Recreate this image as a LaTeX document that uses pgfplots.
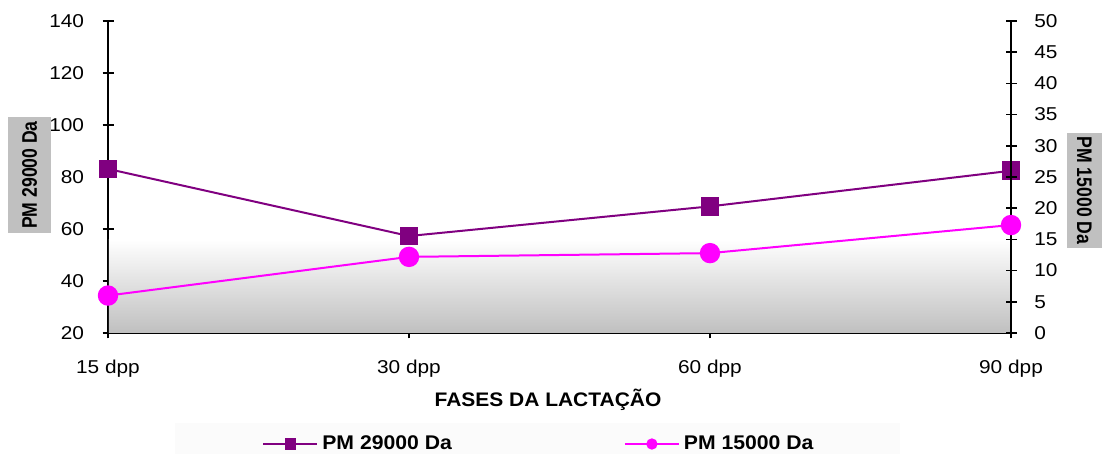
\documentclass[border=0pt]{standalone}
\usepackage{pgfplots}
\pgfplotsset{compat=1.18}
\usepackage{fontspec}
\setmainfont{Liberation Sans}
\newfontfamily\tickfont{Liberation Sans}[FakeStretch=1.12]
\newfontfamily\labfont{Liberation Sans}[FakeStretch=1.07]

\definecolor{pm29}{RGB}{128,0,128}
\definecolor{pm15}{RGB}{255,0,255}
\definecolor{boxgray}{RGB}{192,192,192}
\definecolor{shadegray}{RGB}{192,192,192}
\definecolor{legbg}{RGB}{251,251,251}

\pgfplotsset{
  common/.style={
    scale only axis,
    width=451.5pt, height=156pt,
    at={(54pt,60.5pt)}, anchor=south west,
    xmin=0, xmax=3,
    axis line style={black, line width=0.9pt},
    major tick style={black, line width=0.8pt},
    major tick length=5.5pt,
    tick align=center,
    /pgf/number format/assume math mode=true,
    ticklabel style={font=\tickfont\fontsize{9.3}{11}\selectfont, text=black},
  },
}

\begin{document}
\begin{tikzpicture}
\useasboundingbox (0,0) rectangle (551pt,227pt);

% legend background strip
\fill[legbg] (87.5pt,0pt) rectangle (450pt,15.5pt);

% left axis: PM 29000 Da
\begin{axis}[common,
  ymin=20, ymax=140, ytick={20,40,...,140},
  axis x line*=bottom, axis y line*=left,
  xtick={0,1,2,3},
  xticklabels={15 dpp,30 dpp,60 dpp,90 dpp},
  xticklabel style={yshift=-7.4pt},
  yticklabel style={xshift=-5.7pt},
]
% shaded band along the bottom of the plot area
\fill[top color=white, bottom color=shadegray]
  ([xshift=0.45pt,yshift=0.45pt]axis cs:0,20) rectangle ([xshift=-0.45pt]axis cs:3,56);
\addplot[pm29, line width=1pt, mark=square*, mark size=4.2pt,
  mark options={fill=pm29, draw=pm29}]
  coordinates {(0,83.1) (1,57.3) (2,68.7) (3,82.4)};
\end{axis}

% right axis: PM 15000 Da
\begin{axis}[common,
  ymin=0, ymax=50, ytick={0,5,...,50},
  axis y line*=right, axis x line=none,
  yticklabel pos=right,
  yticklabel style={xshift=5.4pt},
  legend columns=2,
  legend style={
    at={(0.1705,-0.3558)}, anchor=west,
    draw=none, fill=none, inner sep=0pt,
    font=\labfont\bfseries\fontsize{9.9}{11}\selectfont,
    /tikz/every even column/.append style={column sep=84pt},
  },
  legend image code/.code={
    \draw[mark repeat=2, mark phase=2, #1, mark size=2.3pt]
      plot coordinates {(0pt,0pt) (13.5pt,0pt) (27pt,0pt)};
  },
]
\addlegendimage{pm29, line width=1pt, mark=square*, mark options={fill=pm29, draw=pm29}}
\addlegendentry{PM 29000 Da}
\addplot[pm15, line width=1pt, mark=*, mark size=4.6pt,
  mark options={fill=pm15, draw=pm15}]
  coordinates {(0,6.0) (1,12.2) (2,12.8) (3,17.3)};
\addlegendentry{PM 15000 Da}
\end{axis}

% axis titles
\node[anchor=base, font=\labfont\bfseries\fontsize{9.8}{11}\selectfont]
  at (274pt,23.5pt) {FASES DA LACTAÇÃO};
\node[fill=boxgray, rotate=90, minimum width=58pt, minimum height=21.5pt,
  inner sep=0pt, font=\bfseries\fontsize{8.8}{10}\selectfont]
  at (14.75pt,139.5pt) {\scalebox{1}[1.2]{PM 29000 Da}};
\node[fill=boxgray, rotate=-90, minimum width=57.5pt, minimum height=17.5pt,
  inner sep=0pt, anchor=center, font=\bfseries\fontsize{8.8}{10}\selectfont]
  at (542.25pt,131.75pt) {\scalebox{1}[1.2]{PM 15000 Da}};
\end{tikzpicture}
\end{document}
